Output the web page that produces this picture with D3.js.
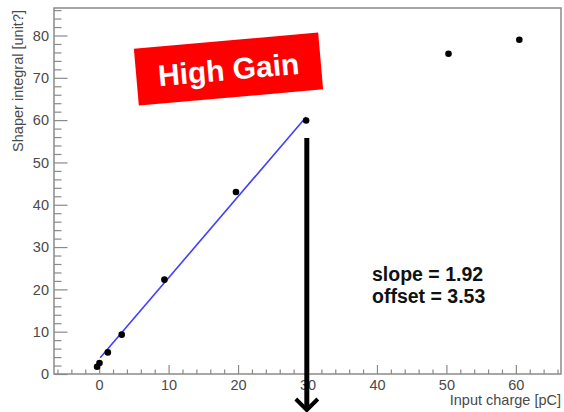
<!DOCTYPE html>
<html>
<head>
<meta charset="utf-8">
<script src="https://cdn.jsdelivr.net/npm/d3@7"></script>
<style>
body { margin: 0; background: #fff; }
svg { display: block; font-family: "Liberation Sans", Arial, sans-serif; }
</style>
</head>
<body>
<svg id="canvas" width="564" height="412"></svg>
<script>
// measured points (input charge [pC], shaper integral)
var charge = [-0.3, 0.05, 1.25, 3.25, 9.4, 19.7, 29.8, 50.3, 60.5];
var integral = [1.7, 2.6, 5.1, 9.3, 22.3, 43.0, 59.9, 75.7, 79.0];

// linear fit shown on the plot
var fit_slope = 1.92;
var fit_offset = 3.53;
var fit_range = [0.15, 29.8];

var x_ticks = [0, 10, 20, 30, 40, 50, 60];
var y_ticks = [0, 10, 20, 30, 40, 50, 60, 70, 80];
var fit_labels = ['slope = 1.92', 'offset = 3.53'];
var badge_text = 'High Gain';
var arrow_at = {x: 29.9, y: 55.8};

draw_chart();

function draw_chart(){
    var padding = {top: 8, left: 54, right: 3, bottom: 38};
    var canvas = d3.select('#canvas');
    var width = 564, height = 412;

    var x_scale = d3.scaleLinear()
        .domain([-6.5, 66.5])
        .range([padding.left, width - padding.right]);
    var y_scale = d3.scaleLinear()
        .domain([0, 86.5])
        .range([height - padding.bottom, padding.top]);

    var axis_col = '#8a8a8a';
    var label_col = '#4a4a4a';

    // frame
    canvas.append('rect')
        .attr('x', x_scale(-6.5)).attr('y', y_scale(86.5))
        .attr('width', x_scale(66.5) - x_scale(-6.5))
        .attr('height', y_scale(0) - y_scale(86.5))
        .attr('fill', 'none').attr('stroke', axis_col).attr('stroke-width', 1.5);

    // x axis ticks
    var x_minor = d3.range(-6, 67, 2).filter(function(d){ return d % 10 != 0; });
    var x_axis = canvas.append('g').attr('transform', 'translate(0,' + y_scale(0) + ')');
    x_axis.call(d3.axisBottom(x_scale).tickValues(x_minor).tickSize(-4.5).tickFormat(''));
    x_axis.call(function(g){
        g.append('g').call(d3.axisBottom(x_scale).tickValues(x_ticks).tickSize(-9).tickPadding(6));
    });
    x_axis.selectAll('.domain').remove();
    x_axis.selectAll('line').attr('stroke', axis_col).attr('stroke-width', 1.2);
    x_axis.selectAll('text').attr('fill', label_col).attr('font-size', 14.5)
        .attr('font-family', '"Liberation Sans", Arial, sans-serif');

    // y axis ticks
    var y_minor = d3.range(2, 87, 2).filter(function(d){ return d % 10 != 0; });
    var y_axis = canvas.append('g').attr('transform', 'translate(' + x_scale(-6.5) + ',0)');
    y_axis.call(d3.axisLeft(y_scale).tickValues(y_minor).tickSize(-7.5).tickFormat(''));
    y_axis.call(function(g){
        g.append('g').call(d3.axisLeft(y_scale).tickValues(y_ticks).tickSize(-13.5).tickPadding(5));
    });
    y_axis.selectAll('.domain').remove();
    y_axis.selectAll('line').attr('stroke', axis_col).attr('stroke-width', 1.2);
    y_axis.selectAll('text').attr('fill', label_col).attr('font-size', 14.5)
        .attr('font-family', '"Liberation Sans", Arial, sans-serif');

    // axis titles
    canvas.append('text')
        .attr('x', width - 3).attr('y', 405)
        .attr('text-anchor', 'end')
        .attr('font-size', 14.5).attr('fill', label_col)
        .text('Input charge [pC]');
    canvas.append('text')
        .attr('transform', 'translate(23,10) rotate(-90)')
        .attr('text-anchor', 'end')
        .attr('font-size', 14.5).attr('fill', label_col)
        .text('Shaper integral [unit?]');

    // fit line
    canvas.append('line')
        .attr('x1', x_scale(fit_range[0])).attr('y1', y_scale(fit_offset + fit_slope * fit_range[0]))
        .attr('x2', x_scale(fit_range[1])).attr('y2', y_scale(fit_offset + fit_slope * fit_range[1]))
        .attr('stroke', '#3f3fff').attr('stroke-width', 1.6);

    // points
    canvas.append('g').selectAll('circle')
        .data(d3.range(charge.length))
        .enter().append('circle')
        .attr('cx', function(i){ return x_scale(charge[i]); })
        .attr('cy', function(i){ return y_scale(integral[i]); })
        .attr('r', 3.3)
        .attr('fill', '#000');

    // fit text
    canvas.append('g').selectAll('text')
        .data(fit_labels)
        .enter().append('text')
        .attr('x', 372)
        .attr('y', function(d, i){ return 281 + i * 21.5; })
        .attr('font-size', 19.5).attr('font-weight', 'bold').attr('fill', '#111')
        .text(function(d){ return d; });

    // arrow
    var ax = x_scale(arrow_at.x);
    canvas.append('line')
        .attr('x1', ax).attr('y1', y_scale(arrow_at.y))
        .attr('x2', ax).attr('y2', 410)
        .attr('stroke', '#000').attr('stroke-width', 5);
    canvas.append('path')
        .attr('d', 'M' + (ax - 11) + ',399 L' + ax + ',410 L' + (ax + 11) + ',399')
        .attr('fill', 'none').attr('stroke', '#000').attr('stroke-width', 4);

    // badge
    var badge = canvas.append('g').attr('transform', 'translate(228.5,69) rotate(-5)');
    badge.append('rect')
        .attr('x', -92.5).attr('y', -28.5).attr('width', 185).attr('height', 57)
        .attr('fill', '#ff0000');
    badge.append('text')
        .attr('x', 0).attr('y', 11)
        .attr('text-anchor', 'middle')
        .attr('font-size', 30).attr('font-weight', 'bold').attr('fill', '#fff')
        .text(badge_text);
}
</script>
</body>
</html>
